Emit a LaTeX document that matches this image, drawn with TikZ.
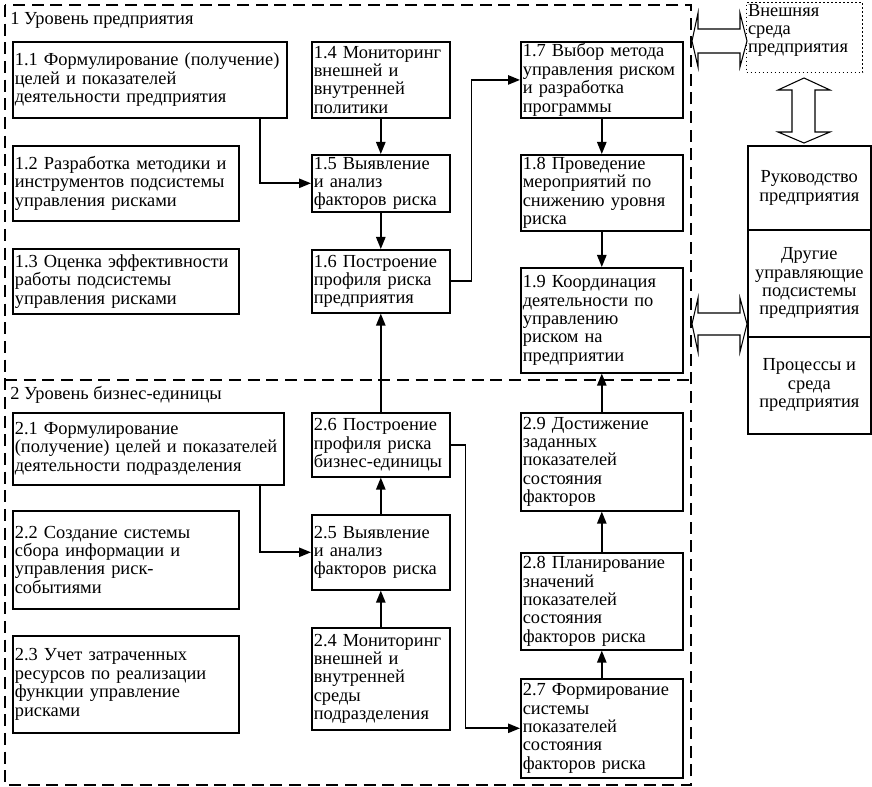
\documentclass[tikz,border=0pt]{standalone}
\usepackage{fontspec}
\setmainfont{Liberation Serif}
\usepackage{tikz}
\usetikzlibrary{arrows.meta}
\tikzstyle{arrow} = [->,>={Triangle[length=9pt,width=7pt]},line width=1.2pt]
\tikzstyle{blok} = [draw,line width=1.2pt,anchor=north west,align=left,inner sep=1.5pt]
\tikzstyle{stek} = [draw,line width=1.2pt,anchor=north west,align=center,inner sep=1pt,minimum width=92.25pt]
\tikzstyle{ramka} = [line width=1.2pt,dash pattern=on 9pt off 5pt]
\tikzstyle{dvustr} = [line width=.8pt,fill=white]

\begin{document}
\begin{tikzpicture}[x=.75pt,y=-.75pt,font=\fontsize{13.8}{13.8}\selectfont]
      \useasboundingbox (0,0) rectangle (872,787);
      % dashed frame of both levels
      \draw[ramka](5,5) rectangle (691,785);
      \draw[ramka](5,380)--(691,380);
      \node[anchor=base west,inner sep=0pt] (lvl1) at (10,25) {1 Уровень предприятия};
      \node[anchor=base west,inner sep=0pt] (lvl2) at (10,400) {2 Уровень бизнес-единицы};
      % level 1
      \node[blok,text width=202.5pt,minimum height=57pt] (n11) at (12,41) {1.1 Формулирование (получение)\\целей и показателей\\деятельности предприятия};
      \node[blok,text width=166.5pt,minimum height=56.25pt] (n12) at (12,145) {1.2 Разработка методики и\\инструментов подсистемы\\управления рисками};
      \node[blok,text width=166.5pt,minimum height=48.75pt] (n13) at (12,248) {1.3 Оценка эффективности\\работы подсистемы\\управления рисками};
      \node[blok,text width=100.5pt,minimum height=57pt] (n14) at (311,41) {1.4 Мониторинг\\внешней и\\внутренней\\политики};
      \node[blok,text width=100.5pt,minimum height=42.75pt] (n15) at (311,154) {1.5 Выявление\\и анализ\\факторов риска};
      \node[blok,text width=100.5pt,minimum height=47.25pt] (n16) at (311,249) {1.6 Построение\\профиля риска\\предприятия};
      \node[blok,text width=118.5pt,minimum height=57pt] (n17) at (520,41) {1.7 Выбор метода\\управления риском\\и разработка\\программы};
      \node[blok,text width=118.5pt,minimum height=57pt] (n18) at (520,154) {1.8 Проведение\\мероприятий по\\снижению уровня\\риска};
      \node[blok,text width=118.5pt,minimum height=78.75pt] (n19) at (520,267) {1.9 Координация\\деятельности по\\управлению\\риском на\\предприятии};
      % level 2
      \node[blok,text width=200.25pt,minimum height=54pt] (n21) at (12,412) {2.1 Формулирование\\(получение) целей и показателей\\деятельности подразделения};
      \node[blok,text width=166.5pt,minimum height=73.5pt] (n22) at (12,510) {2.2 Создание системы\\сбора информации и\\управления риск-\\событиями};
      \node[blok,text width=166.5pt,minimum height=72.75pt] (n23) at (12,635) {2.3 Учет затраченных\\ресурсов по реализации\\функции управление\\рисками};
      \node[blok,text width=100.5pt,minimum height=76.5pt] (n24) at (311,627) {2.4 Мониторинг\\внешней и\\внутренней\\среды\\подразделения};
      \node[blok,text width=100.5pt,minimum height=56.25pt] (n25) at (311,514) {2.5 Выявление\\и анализ\\факторов риска};
      \node[blok,text width=100.5pt,minimum height=48pt] (n26) at (311,412) {2.6 Построение\\профиля риска\\бизнес-единицы};
      \node[blok,text width=118.5pt,minimum height=74.25pt] (n27) at (520,678) {2.7 Формирование\\системы\\показателей\\состояния\\факторов риска};
      \node[blok,text width=118.5pt,minimum height=72.75pt] (n28) at (520,552) {2.8 Планирование\\значений\\показателей\\состояния\\факторов риска};
      \node[blok,text width=118.5pt,minimum height=73.5pt] (n29) at (520,412) {2.9 Достижение\\заданных\\показателей\\состояния\\факторов};
      % enterprise side
      \node[draw,dotted,line width=1pt,anchor=north west,align=left,inner sep=1pt,text width=85pt] (ext) at (746,2) {Внешняя\\среда\\предприятия\\ \mbox{}};
      \node[stek,minimum height=63pt] (ruk) at (747,145) {Руководство\\предприятия};
      \node[stek,minimum height=80.25pt] (dr) at (747,229) {Другие\\управляющие\\подсистемы\\предприятия};
      \node[stek,minimum height=72.75pt] (proc) at (747,336) {Процессы и\\среда\\предприятия};
      % connectors
      \coordinate (k11) at (260,117);
      \coordinate (k21) at (260,484);
      \draw[arrow](k11) |- (n15);
      \draw[arrow](n14)--(n15);
      \draw[arrow](n15)--(n16);
      \draw[arrow](n16.east)--++(21,0) |- (n17.west);
      \draw[arrow](n17)--(n18);
      \draw[arrow](n18)--(n19);
      \draw[arrow](k21) |- (n25);
      \draw[arrow](n24)--(n25);
      \draw[arrow](n25)--(n26);
      \draw[arrow](n26)--(n16);
      \draw[arrow](n26.east)--++(15,0) |- (n27.west);
      \draw[arrow](n27)--(n28);
      \draw[arrow](n28)--(n29);
      \draw[arrow](n29)--(n19);
      % hollow double arrows
      \draw[dvustr](692,41)--(698,13)--(698,29)--(740,29)--(740,13)--(747,41)--(740,67)--(740,53)--(698,53)--(698,67)--cycle;
      \draw[dvustr](692,324)--(698,298)--(698,313)--(740,313)--(740,298)--(747,324)--(740,352)--(740,335)--(698,335)--(698,352)--cycle;
      \draw[dvustr](804,78)--(830,90)--(815,90)--(815,132)--(830,132)--(804,143)--(778,132)--(792,132)--(792,90)--(778,90)--cycle;
    \end{tikzpicture}
\end{document}
